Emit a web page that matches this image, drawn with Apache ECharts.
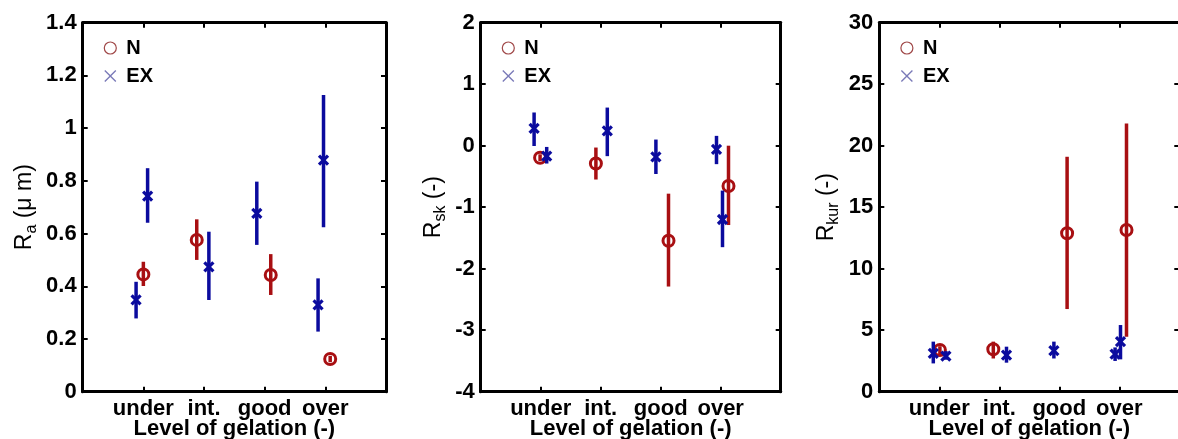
<!DOCTYPE html>
<html>
<head>
<meta charset="utf-8">
<script src="https://cdn.jsdelivr.net/npm/echarts@6/dist/echarts.min.js"></script>
<style>html,body{margin:0;padding:0;background:#fff;}#c{width:1178px;height:439px;}</style>
</head>
<body>
<div id="c"></div>
<script>
// Category tick labels (x positions 1..4)
const categories = ['under', 'int.', 'good', 'over'];

// Panel 1: Ra (µm)
const raN_x  = [1.0, 1.88, 3.10, 4.08];
const raN_y  = [0.445, 0.576, 0.443, 0.124];
const raN_lo = [0.401, 0.500, 0.367, 0.112];
const raN_hi = [0.493, 0.654, 0.522, 0.136];
const raEX_x  = [0.88, 1.07, 2.08, 2.87, 3.88, 3.97];
const raEX_y  = [0.348, 0.742, 0.474, 0.677, 0.329, 0.879];
const raEX_lo = [0.278, 0.641, 0.348, 0.557, 0.228, 0.624];
const raEX_hi = [0.417, 0.848, 0.607, 0.797, 0.430, 1.126];

// Panel 2: Rsk (-)
const skN_x  = [0.99, 1.92, 3.13, 4.13];
const skN_y  = [-0.195, -0.29, -1.545, -0.655];
const skN_lo = [-0.25, -0.55, -2.29, -1.29];
const skN_hi = [-0.14, -0.03, -0.78, 0.0];
const skEX_x  = [0.89, 1.10, 2.11, 2.92, 3.93, 4.03];
const skEX_y  = [0.28, -0.17, 0.24, -0.18, -0.06, -1.20];
const skEX_lo = [-0.005, -0.29, -0.17, -0.46, -0.30, -1.65];
const skEX_hi = [0.54, -0.02, 0.62, 0.10, 0.16, -0.73];

// Panel 3: Rkur (-)
const kuN_x  = [1.01, 1.90, 3.13, 4.12];
const kuN_y  = [3.39, 3.45, 12.88, 13.15];
const kuN_lo = [3.0, 2.7, 6.72, 4.47];
const kuN_hi = [3.7, 4.07, 19.1, 21.8];
const kuEX_x  = [0.90, 1.11, 2.12, 2.91, 3.93, 4.02];
const kuEX_y  = [3.12, 2.90, 2.98, 3.33, 3.06, 4.07];
const kuEX_lo = [2.30, 2.60, 2.36, 2.70, 2.50, 2.63];
const kuEX_hi = [4.07, 3.30, 3.66, 4.07, 3.60, 5.42];

// Y axis ranges
const yMin = [0, -4, 0];
const yMax = [1.4, 2, 30];
const yStep = [0.2, 1, 5];

const RED = '#a80f12';
const BLUE = '#0b0b9e';
const FONT = '"Liberation Sans", Arial, sans-serif';

const grids = [
  {left: 82.7, top: 22.7, width: 303.3, height: 369, outerBoundsMode: 'none', containLabel: false},
  {left: 480.7, top: 22.7, width: 300, height: 369, outerBoundsMode: 'none', containLabel: false},
  {left: 879.3, top: 22.7, width: 300, height: 369, outerBoundsMode: 'none', containLabel: false}
];
const yNames = [
  '{r|R}{s|a}{r| (\u03bc m)}',
  '{r|R}{s|sk}{r| (-)}',
  '{r|R}{s|kur}{r| (-)}'
];
const yNameGaps = [43, 32, 38];

function pack(xs, ys, lo, hi) { return xs.map((x, i) => [x, ys[i], lo[i], hi[i]]); }

function renderN(params, api) {
  const p = api.coord([api.value(0), api.value(1)]);
  const a = api.coord([api.value(0), api.value(2)]);
  const b = api.coord([api.value(0), api.value(3)]);
  return {type: 'group', children: [
    {type: 'line', shape: {x1: a[0], y1: a[1], x2: b[0], y2: b[1]}, style: {stroke: RED, lineWidth: 3.5}},
    {type: 'circle', shape: {cx: p[0], cy: p[1], r: 5.5}, style: {fill: 'none', stroke: RED, lineWidth: 3}}
  ]};
}
function renderEX(params, api) {
  const p = api.coord([api.value(0), api.value(1)]);
  const a = api.coord([api.value(0), api.value(2)]);
  const b = api.coord([api.value(0), api.value(3)]);
  const h = 4.5;
  return {type: 'group', children: [
    {type: 'line', shape: {x1: a[0], y1: a[1], x2: b[0], y2: b[1]}, style: {stroke: BLUE, lineWidth: 3.5}},
    {type: 'line', shape: {x1: p[0]-h, y1: p[1]-h, x2: p[0]+h, y2: p[1]+h}, style: {stroke: BLUE, lineWidth: 3.2}},
    {type: 'line', shape: {x1: p[0]-h, y1: p[1]+h, x2: p[0]+h, y2: p[1]-h}, style: {stroke: BLUE, lineWidth: 3.2}}
  ]};
}

const panelsData = [
  [pack(raN_x, raN_y, raN_lo, raN_hi), pack(raEX_x, raEX_y, raEX_lo, raEX_hi)],
  [pack(skN_x, skN_y, skN_lo, skN_hi), pack(skEX_x, skEX_y, skEX_lo, skEX_hi)],
  [pack(kuN_x, kuN_y, kuN_lo, kuN_hi), pack(kuEX_x, kuEX_y, kuEX_lo, kuEX_hi)]
];

const xAxes = [], yAxes = [], series = [], legends = [];
const xPath = 'path://M0,0.8 L0.8,0 L5,4.2 L9.2,0 L10,0.8 L5.8,5 L10,9.2 L9.2,10 L5,5.8 L0.8,10 L0,9.2 L4.2,5 Z';

grids.forEach((g, i) => {
  // bottom x axis
  xAxes.push({
    gridIndex: i, type: 'value', min: 0, max: 5, interval: 1, position: 'bottom',
    axisLine: {show: true, onZero: false, lineStyle: {color: '#000', width: 3}},
    axisTick: {show: true, inside: true, length: 5, lineStyle: {color: '#000', width: 2}},
    splitLine: {show: false},
    axisLabel: {
      show: true, margin: 6, color: '#000', fontFamily: FONT, fontWeight: 'bold', fontSize: 22,
      formatter: v => (v >= 1 && v <= 4) ? categories[v - 1] : ''
    },
    name: 'Level of gelation (-)', nameLocation: 'middle', nameGap: 26, nameMoveOverlap: false,
    nameTextStyle: {color: '#000', fontFamily: FONT, fontWeight: 'bold', fontSize: 22}
  });
  // top x axis (frame + ticks)
  xAxes.push({
    gridIndex: i, type: 'value', min: 0, max: 5, interval: 1, position: 'top',
    axisLine: {show: true, onZero: false, lineStyle: {color: '#000', width: 3}},
    axisTick: {show: true, inside: true, length: 5, lineStyle: {color: '#000', width: 2}},
    splitLine: {show: false}, axisLabel: {show: false}
  });
  // left y axis
  yAxes.push({
    gridIndex: i, type: 'value', min: yMin[i], max: yMax[i], interval: yStep[i], position: 'left',
    axisLine: {show: true, onZero: false, lineStyle: {color: '#000', width: 3}},
    axisTick: {show: true, inside: true, length: 5, lineStyle: {color: '#000', width: 2}},
    splitLine: {show: false},
    axisLabel: {show: true, margin: 6, color: '#000', fontFamily: FONT, fontWeight: 'bold', fontSize: 22},
    name: yNames[i], nameLocation: 'middle', nameRotate: 90, nameGap: yNameGaps[i],
    nameTextStyle: {
      color: '#000', fontFamily: FONT,
      rich: {
        r: {fontSize: 23, fontFamily: FONT, color: '#000', verticalAlign: 'middle', lineHeight: 30},
        s: {fontSize: 16, fontFamily: FONT, color: '#000', verticalAlign: 'bottom'}
      }
    }
  });
  // right y axis (frame + ticks)
  yAxes.push({
    gridIndex: i, type: 'value', min: yMin[i], max: yMax[i], interval: yStep[i], position: 'right',
    axisLine: {show: true, onZero: false, lineStyle: {color: '#000', width: 3}},
    axisTick: {show: true, inside: true, length: 5, lineStyle: {color: '#000', width: 2}},
    splitLine: {show: false}, axisLabel: {show: false}
  });

  series.push({
    name: 'N', type: 'custom', xAxisIndex: 2 * i, yAxisIndex: 2 * i,
    renderItem: renderN, encode: {x: 0, y: 1}, data: panelsData[i][0], clip: false,
    itemStyle: {color: RED}, z: 3
  });
  series.push({
    name: 'EX', type: 'custom', xAxisIndex: 2 * i, yAxisIndex: 2 * i,
    renderItem: renderEX, encode: {x: 0, y: 1}, data: panelsData[i][1], clip: false,
    itemStyle: {color: BLUE}, z: 4
  });

  legends.push({
    left: g.left + 16, top: 33, orient: 'vertical', itemWidth: 22, itemHeight: 12, itemGap: 8,
    selectedMode: false,
    textStyle: {color: '#000', fontFamily: FONT, fontWeight: 'bold', fontSize: 20},
    data: [
      {name: 'N', icon: 'circle', itemStyle: {color: 'rgba(255,255,255,0)', borderColor: '#a04848', borderWidth: 1.2}},
      {name: 'EX', icon: xPath, itemStyle: {color: '#7a7ab8', borderWidth: 0}}
    ]
  });
});

const chart = echarts.init(document.getElementById('c'), null, {renderer: 'canvas'});
chart.setOption({
  backgroundColor: '#fff',
  animation: false,
  grid: grids,
  xAxis: xAxes,
  yAxis: yAxes,
  legend: legends,
  series: series
});
</script>
</body>
</html>
